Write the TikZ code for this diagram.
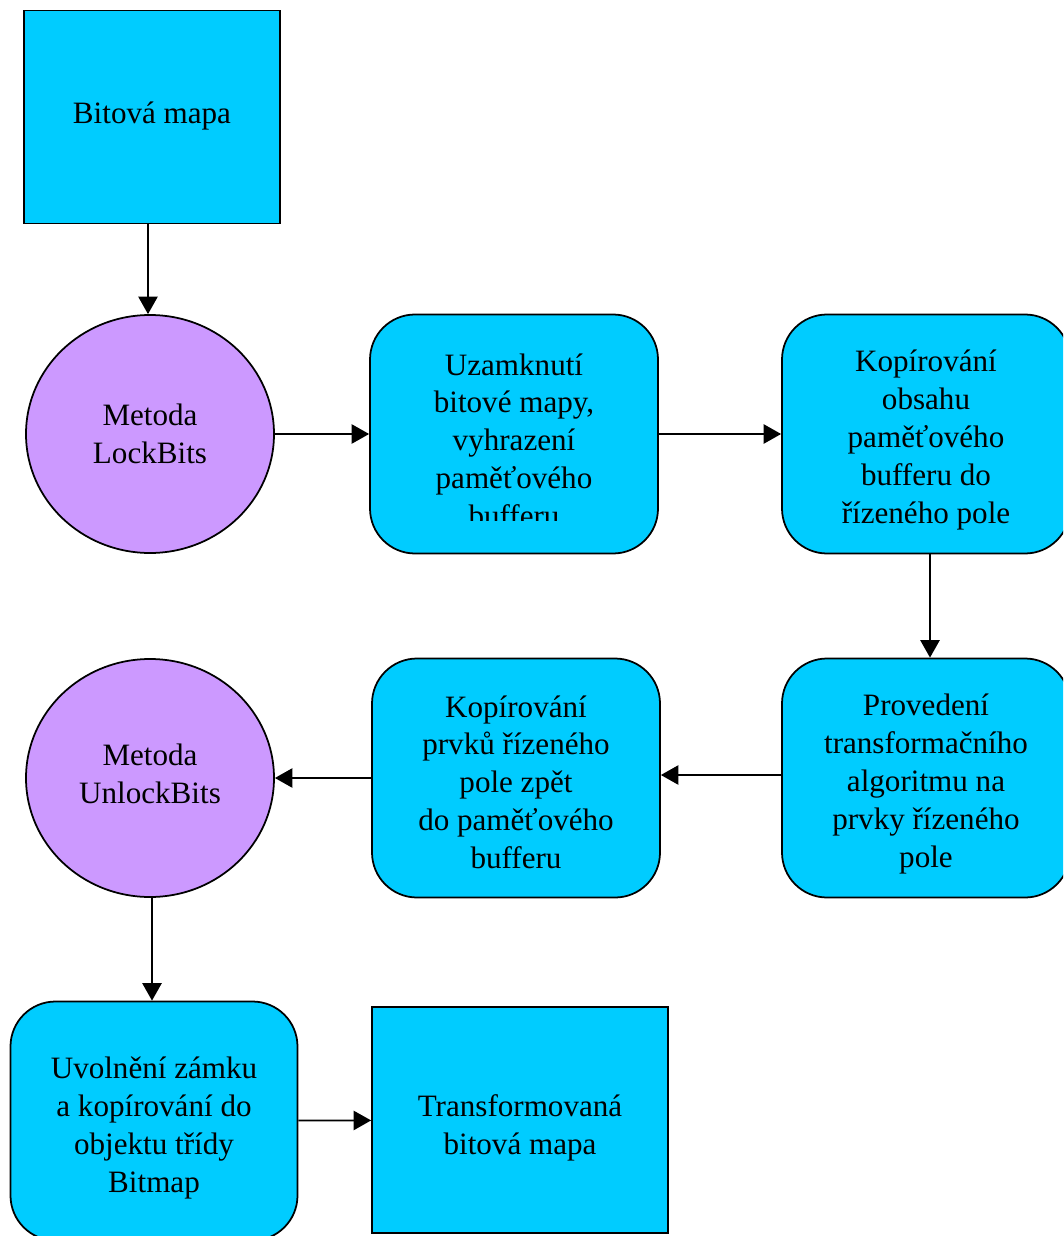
\documentclass[tikz,border=0pt]{standalone}
\usepackage{fontspec}
\setmainfont{Liberation Serif}
\usetikzlibrary{positioning,shapes.geometric,arrows.meta}
\definecolor{boxblue}{HTML}{00CCFF}
\definecolor{lilac}{HTML}{CC99FF}
\def\pxu{0.02cm}
\begin{document}
\begin{tikzpicture}[x=\pxu,y=-\pxu,
  every node/.style={font=\fontsize{17.7}{21.5}\selectfont,align=center,inner sep=0pt},
  sqbox/.style={draw,line width=1pt,fill=boxblue},
  rbox/.style={draw,line width=1pt,fill=boxblue,rounded corners=45*\pxu,
    minimum width=288*\pxu,minimum height=239*\pxu},
  method/.style={ellipse,draw,line width=1pt,fill=lilac,
    minimum width=248*\pxu,minimum height=238*\pxu},
  flow/.style={line width=1pt,-{Triangle[length=10pt,width=11pt]}}]
\useasboundingbox (0,0) rectangle (1063,1236);
\clip (0,0) rectangle (1063,1236);
% tvary
\node[sqbox,minimum width=256*\pxu,minimum height=213*\pxu] (bmap) at (152,117) {};
\node[method] (lock) at (150,434) {};
\node[rbox] (uzam) at (514,434) {};
\node[rbox] (kopir) at (926,434) {};
\node[rbox] (prov) at (926,778) {};
\node[rbox] (zpet) at (516,778) {};
\node[method] (unlock) at (150,778) {};
\node[rbox,minimum width=287*\pxu] (uvol) at (154,1121) {};
\node[sqbox,minimum width=296*\pxu,minimum height=226*\pxu] (trans) at (520,1120) {};
% texty
\node (bmap-t) at (152,116) {Bitová mapa};
\node (lock-t) at (150,434) {Metoda\\LockBits};
\begin{scope}
\clip (uzam.north west) rectangle ([yshift=34*\pxu]uzam.south east);
\node (uzam-t) at (514,440) {Uzamknutí\\bitové mapy,\\vyhrazení\\paměťového\\bufferu};
\end{scope}
\node (kopir-t) at (926,440) {Kopírování\\obsahu\\paměťového\\bufferu do\\řízeného pole};
\node (prov-t) at (926,784) {Provedení\\transformačního\\algoritmu na\\prvky řízeného\\pole};
\node (zpet-t) at (516,782) {Kopírování\\prvků řízeného\\pole zpět\\do paměťového\\bufferu};
\node (unlock-t) at (150,774) {Metoda\\UnlockBits};
\node (uvol-t) at (154,1128) {Uvolnění zámku\\a kopírování do\\objektu třídy\\Bitmap};
\node (trans-t) at (520,1128) {Transformovaná\\bitová mapa};
% spojnice
\draw[flow] (bmap.south -| 148,0) -- (lock.north -| 148,0);
\draw[flow] (lock) -- (uzam);
\draw[flow] (uzam) -- (kopir);
\draw[flow] (kopir.south -| 930,0) -- (prov.north -| 930,0);
\draw[flow] (prov.west |- 0,775) -- (zpet.east |- 0,775);
\draw[flow] (zpet) -- (unlock);
\draw[flow] (unlock.south -| 152,0) -- (uvol.north -| 152,0);
\draw[flow] (uvol) -- (trans);
\end{tikzpicture}
\end{document}
